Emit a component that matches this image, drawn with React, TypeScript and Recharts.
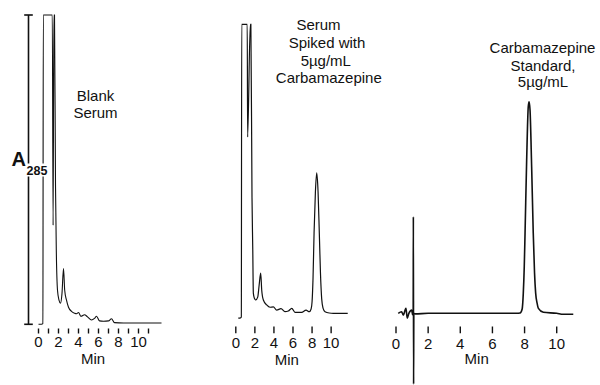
import React from "react";
import { LineChart, Line, XAxis, YAxis } from "recharts";

// Three HPLC traces at A285: blank serum, spiked serum, carbamazepine standard.
// Flat tops on the early peaks are the detector going off scale (100 = full scale).

const FONT = '"Liberation Sans", Arial, Helvetica, sans-serif';
const INK = "#111";

const blankTime = [
  0, 0.3, 0.44, 0.48, 1.38, 1.46, 1.54, 1.6, 1.7, 1.78, 1.9, 2.05, 2.2, 2.35, 2.5, 2.62, 2.8, 3.0,
  3.3, 3.6, 3.8, 4.0, 4.25, 4.6, 4.9, 5.3, 5.6, 5.8, 6.1, 6.5, 7.0, 7.3, 7.6, 8.5, 10, 12.3,
];
const blankAbs = [
  0, 0, 0.2, 100, 100, 32, 100, 100, 45, 24, 11, 7.8, 6.8, 10, 18, 11, 7.8, 5.5, 4.2, 3.6, 3.4, 3.8,
  2.6, 3.1, 2.4, 1.4, 1.9, 2.6, 1.1, 1.0, 1.1, 1.8, 0.55, 0.4, 0.4, 0.4,
];

const spikedTime = [
  0.26, 0.5, 0.58, 0.62, 1.2, 1.24, 1.52, 1.58, 1.7, 1.78, 1.84, 1.95, 2.09, 2.3, 2.45, 2.61, 2.72,
  2.89, 3.24, 3.59, 3.94, 4.29, 4.74, 5.16, 5.51, 5.87, 6.21, 6.91, 7.37, 7.71, 7.9, 8.0, 8.1, 8.21,
  8.35, 8.49, 8.63, 8.76, 8.88, 9.01, 9.15, 9.36, 9.8, 10.23, 11.74,
];
const spikedAbs = [
  -1.7, -1.6, -1.3, 100, 100, 61, 100, 100, 40, 22, 7, 5.2, 4.6, 5.6, 9.8, 13.9, 8, 4.6, 2.9, 2.1,
  2.2, 1.1, 1.6, 0.55, 0.8, 1.7, 0.35, 0.35, 1.1, 0.55, 1.5, 4, 12, 27.8, 42, 48.6, 42, 27.8, 14, 5,
  1.8, 0.55, 0.1, 0, 0,
];

const stdTime = [
  0.14, 0.35, 0.45, 0.62, 0.7, 0.8, 0.98, 1.03, 1.07, 1.08, 1.095, 1.11, 1.2, 2, 4, 6, 7.5, 7.72,
  7.85, 7.92, 7.98, 8.03, 8.13, 8.23, 8.28, 8.34, 8.44, 8.54, 8.62, 8.69, 8.78, 8.86, 9.17, 10.0,
  10.4, 11.03,
];
const stdAbs = [
  0, 0.55, -0.6, 1.7, -1.7, 0, 1.1, -0.5, 0.3, 33.4, -24.5, 0, -0.2, 0, 0, 0, 0, 0.1, 1.5, 6.9, 16,
  27.8, 53, 71.5, 73.2, 70.3, 50.7, 27.8, 14, 7.0, 3.5, 1.7, 0.35, 0, -0.35, -0.35,
];

const blankTicks = [0, 1, 2, 3, 4, 5, 6, 7, 8, 9, 10, 11];
const spikedTicks = [0, 2, 4, 6, 8, 10];
const stdTicks = [0, 2, 4, 6, 8, 10];
const shownLabels = [0, 2, 4, 6, 8, 10];
const fullScale = [0, 100];

const zip = (t: number[], v: number[]) => t.map((time, i) => ({ time, abs: v[i] }));
const blankData = zip(blankTime, blankAbs);
const spikedData = zip(spikedTime, spikedAbs);
const stdData = zip(stdTime, stdAbs);

const layer: React.CSSProperties = { position: "absolute", left: 0, top: 0 };

// tick mark sits a little below the axis, label under it
function timeTick(gap: number, len: number, labelDy: number) {
  return (props: any) => {
    const { x, y, payload } = props;
    const v = payload.value;
    return (
      <g>
        <line x1={x} x2={x} y1={y + gap} y2={y + gap + len} stroke={INK} strokeWidth={1.4} />
        {shownLabels.includes(v) && (
          <text x={x} y={y + labelDy} textAnchor="middle" fontSize={15} fontFamily={FONT} fill={INK}>
            {v}
          </text>
        )}
      </g>
    );
  };
}

// short cap centred on the scale bar
const capTick = (props: any) => (
  <line x1={props.x - 4.3} x2={props.x + 4.3} y1={props.y} y2={props.y} stroke={INK} strokeWidth={1.6} />
);

function Notes() {
  const t = { fontSize: 15, fontFamily: FONT, fill: INK, textAnchor: "middle" as const };
  return (
    <svg width={600} height={385} style={{ ...layer, pointerEvents: "none" }}>
      <text x={11.5} y={166} fontSize={20} fontWeight="bold" fontFamily={FONT} fill={INK}>
        A
      </text>
      <rect x={26} y={163.5} width={22} height={13} fill="#fff" />
      <text x={26.5} y={175} fontSize={12.5} fontWeight="bold" fontFamily={FONT} fill={INK}>
        285
      </text>

      <text {...t} x={95.5} y={101}>Blank</text>
      <text {...t} x={95.5} y={118.3}>Serum</text>

      <text {...t} x={318.5} y={30}>Serum</text>
      <text {...t} x={327} y={48}>Spiked with</text>
      <text {...t} x={325.8} y={65.8}>5µg/mL</text>
      <text {...t} x={328.8} y={83.4}>Carbamazepine</text>

      <text {...t} x={542.5} y={53.3}>Carbamazepine</text>
      <text {...t} x={543} y={70.5}>Standard,</text>
      <text {...t} x={543} y={87.3}>5µg/mL</text>

      <text {...t} x={93} y={364}>Min</text>
      <text {...t} x={286.8} y={365}>Min</text>
      <text {...t} x={476.7} y={363.5}>Min</text>
    </svg>
  );
}

export default function App() {
  return (
    <div
      style={{ position: "absolute", left: 0, top: 0, width: 600, height: 385, background: "#fff", overflow: "hidden" }}
    >
      {/* blank serum */}
      <LineChart width={600} height={385} data={blankData} margin={{ top: 15, right: 436.5, bottom: 20.7, left: 18.5 }} style={layer}>
        <XAxis
          type="number"
          dataKey="time"
          domain={[-1, 12.5]}
          ticks={blankTicks}
          interval={0}
          axisLine={false}
          tickLine={false}
          tickSize={0}
          tickMargin={0}
          height={40}
          tick={timeTick(4.2, 5, 23)}
        />
        <YAxis
          type="number"
          domain={[0, 100]}
          ticks={fullScale}
          interval={0}
          width={10}
          axisLine={{ stroke: INK, strokeWidth: 1.6 }}
          tickLine={false}
          tickSize={0}
          tickMargin={0}
          tick={capTick}
        />
        <Line dataKey="abs" type="monotone" dot={false} stroke={INK} strokeWidth={1.1} isAnimationActive={false} />
      </LineChart>

      {/* spiked serum */}
      <LineChart width={600} height={385} data={spikedData} margin={{ top: 24.3, right: 249.8, bottom: 20, left: 235.8 }} style={layer}>
        <XAxis
          type="number"
          dataKey="time"
          domain={[0, 12]}
          ticks={spikedTicks}
          interval={0}
          axisLine={false}
          tickLine={false}
          tickSize={0}
          tickMargin={0}
          height={40}
          tick={timeTick(1.5, 6.8, 23.3)}
        />
        <YAxis type="number" domain={[-4.05, 100]} hide />
        <Line dataKey="abs" type="monotone" dot={false} stroke={INK} strokeWidth={1.2} isAnimationActive={false} />
      </LineChart>

      {/* standard: axis layer */}
      <LineChart width={600} height={385} data={stdData} margin={{ top: 0, right: 24, bottom: 20, left: 396 }} style={layer}>
        <XAxis
          type="number"
          dataKey="time"
          domain={[0, 11.2]}
          ticks={stdTicks}
          interval={0}
          axisLine={false}
          tickLine={false}
          tickSize={0}
          tickMargin={0}
          height={40}
          tick={timeTick(1.5, 6.8, 24)}
        />
        <YAxis type="number" domain={[-24.81, 108.41]} hide />
      </LineChart>

      {/* standard: trace layer, full height so the injection spike can run off the bottom */}
      <LineChart width={600} height={385} data={stdData} margin={{ top: 0, right: 24, bottom: 0, left: 396 }} style={layer}>
        <XAxis type="number" dataKey="time" domain={[0, 11.2]} hide />
        <YAxis type="number" domain={[-24.81, 108.41]} hide />
        <Line dataKey="abs" type="monotone" dot={false} stroke={INK} strokeWidth={1.6} isAnimationActive={false} />
      </LineChart>

      <Notes />
    </div>
  );
}
